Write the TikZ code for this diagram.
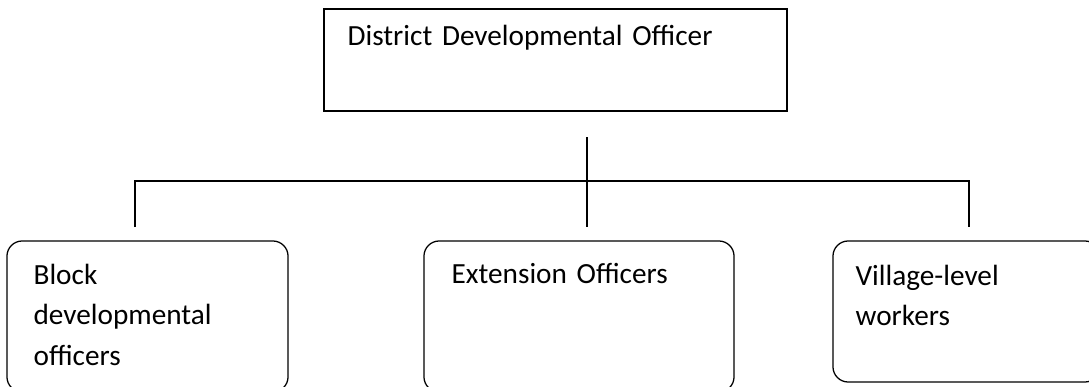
\documentclass[tikz,border=0pt]{standalone}
\usepackage{fontspec}
\setmainfont{Carlito}
\newcommand\officefont{\fontsize{20.8}{28.8}\selectfont\spaceskip=3.8pt plus 1pt minus 1pt\relax}
\begin{document}
\begin{tikzpicture}[x=0.025cm, y=-0.025cm, line width=0.9pt,
        officebox/.style={draw, shape=rectangle, line width=1.1pt, inner sep=0pt},
        roundbox/.style={draw, shape=rectangle, rounded corners=0.38cm, inner sep=0pt},
        caption/.style={anchor=base west, inner sep=0pt, text width=12cm, align=left,
            font=\officefont}]
        \useasboundingbox (0, 0) rectangle (1089, 387);

        \node (ddo) at (555.5, 60) [officebox, minimum width=11.575cm, minimum height=2.55cm] {};
        \node (ddotext) at (347, 46) [caption] {District Developmental Officer};

        \node (bdo) at (147.5, 316.5) [roundbox, minimum width=7.025cm, minimum height=3.775cm] {};
        \node (eo) at (579, 316.5) [roundbox, minimum width=7.75cm, minimum height=3.775cm] {};
        \node (vlw) at (966.5, 311.5) [roundbox, minimum width=6.675cm, minimum height=3.525cm] {};

        \node (bdotext) at (33, 284) [caption] {Block\\developmental\\officers};
        \node (eotext) at (451, 283) [caption] {Extension Officers};
        \node (vlwtext) at (855, 285) [caption] {Village-level\\workers};

        \coordinate (hub) at (587, 137);
        \coordinate (bus) at (587, 181);
        \coordinate (bdotop) at (135, 227);
        \coordinate (eotop) at (587, 227);
        \coordinate (vlwtop) at (969, 227);

        \draw (hub) -- (eotop);
        \draw (bdotop) |- (bus) -| (vlwtop);
    \end{tikzpicture}
\end{document}
